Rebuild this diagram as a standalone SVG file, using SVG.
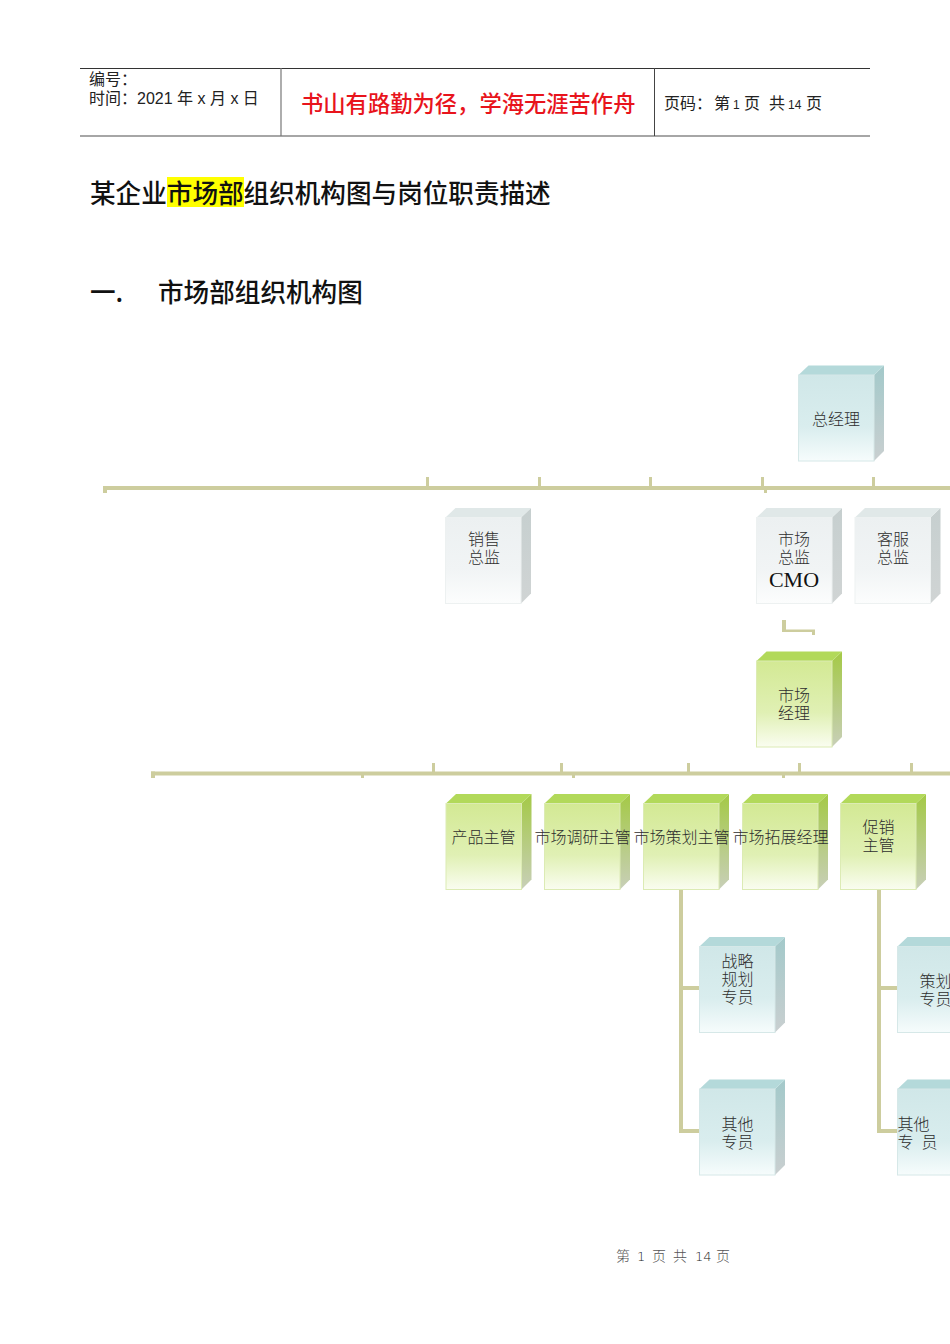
<svg xmlns="http://www.w3.org/2000/svg" width="950" height="1344" viewBox="0 0 950 1344">
<style>
text{font-family:"Noto Sans CJK SC","Liberation Sans",sans-serif;fill:#111;white-space:pre}
.n{font-size:16px;fill:#2e2e2e;text-anchor:middle;font-weight:300}
.h{font-size:16px;font-family:"Liberation Sans","Noto Sans CJK SC",sans-serif;font-weight:400;fill:#222}
.t{font-size:25.600px;font-weight:500}
.c{fill:#cdcd9e}
.tf{fill:url(#tF);stroke:#d6e8e8}.tt{fill:#b4d9da}.ts{fill:url(#tS)}
.gf{fill:url(#gF);stroke:#dcebb4}.gt{fill:#b2d95a}.gs{fill:url(#gS)}
.sf{fill:url(#sF);stroke:#edf1f1}.st{fill:#e0e8e8}.ss{fill:url(#sS)}
</style>
<defs>
<linearGradient id="tF" x1="0" y1="0" x2="0" y2="1"><stop offset="0" stop-color="#d0e7e8"/><stop offset=".6" stop-color="#d9edee"/><stop offset="1" stop-color="#f6fcfc"/></linearGradient>
<linearGradient id="tS" x1="0" y1="0" x2="0" y2="1"><stop offset="0" stop-color="#a3c9ca"/><stop offset="1" stop-color="#c9cfd0"/></linearGradient>
<linearGradient id="gF" x1="0" y1="0" x2="0" y2="1"><stop offset="0" stop-color="#d3e994"/><stop offset=".6" stop-color="#e0f0b4"/><stop offset="1" stop-color="#fafdf0"/></linearGradient>
<linearGradient id="gS" x1="0" y1="0" x2="0" y2="1"><stop offset="0" stop-color="#a4c946"/><stop offset="1" stop-color="#c8cfb8"/></linearGradient>
<linearGradient id="sF" x1="0" y1="0" x2="0" y2="1"><stop offset="0" stop-color="#ecf0f1"/><stop offset=".6" stop-color="#f1f4f5"/><stop offset="1" stop-color="#fcfdfd"/></linearGradient>
<linearGradient id="sS" x1="0" y1="0" x2="0" y2="1"><stop offset="0" stop-color="#c6cfcf"/><stop offset="1" stop-color="#d0d4d4"/></linearGradient>
<g id="bt"><path class="ts" d="M75.500 0l10-9.500V76L75.500 86z"/><path class="tt" d="M0 0l10-9.500H85.500L75.500 0z"/><rect class="tf" width="75.500" height="86"/></g>
<g id="bg"><path class="gs" d="M75.500 0l10-9.500V76L75.500 86z"/><path class="gt" d="M0 0l10-9.500H85.500L75.500 0z"/><rect class="gf" width="75.500" height="86"/></g>
<g id="bs"><path class="ss" d="M75.500 0l10-9.500V76L75.500 86z"/><path class="st" d="M0 0l10-9.500H85.500L75.500 0z"/><rect class="sf" width="75.500" height="86"/></g>
</defs>

<g id="header">
<path d="M80 68.500H870" stroke="#333" fill="none"/>
<path d="M80 136H870" stroke="#888" stroke-width="1.500" fill="none"/>
<path d="M281 68V136" stroke="#777" stroke-width="1.200" fill="none"/>
<path d="M654.500 68V136" stroke="#444" fill="none"/>
<text class="h" x="89" y="85">编号：</text>
<text class="h" x="89" y="104">时间：2021 年 x 月 x 日</text>
<text x="301" y="112" style="font-size:22.300px;fill:#e8141c;font-weight:500">书山有路勤为径，学海无涯苦作舟</text>
<text class="h" y="109"><tspan x="664">页码：</tspan><tspan x="714">第</tspan><tspan x="733" style="font-size:12px">1</tspan><tspan x="744">页</tspan><tspan x="769">共</tspan><tspan x="788" style="font-size:12px">14</tspan><tspan x="806">页</tspan></text>
</g>
<g id="title">
<rect x="167" y="177" width="77" height="30" fill="#ffff00"/>
<text class="t" x="90" y="203">某企业市场部组织机构图与岗位职责描述</text>
<text class="t" x="90" y="302">一.</text>
<text class="t" x="158" y="302">市场部组织机构图</text>
</g>

<g id="connectors">
<rect class="c" x="103" y="486" width="847" height="4"/>
<rect class="c" x="103" y="486" width="4" height="7"/>
<rect class="c" x="426" y="477" width="3" height="11"/>
<rect class="c" x="538" y="477" width="3" height="11"/>
<rect class="c" x="649" y="477" width="3" height="11"/>
<rect class="c" x="761" y="477" width="3" height="11"/>
<rect class="c" x="872" y="477" width="3" height="11"/>
<rect class="c" x="764" y="488" width="3" height="5"/>
<path class="c" d="M782 620h4v9.500h29v5.500h-3v-3h-30z"/>
<rect class="c" x="151" y="771.500" width="799" height="4"/>
<rect class="c" x="151" y="771.500" width="4" height="6.500"/>
<rect class="c" x="361" y="773" width="3" height="5"/>
<rect class="c" x="572" y="773" width="3" height="5"/>
<rect class="c" x="782" y="773" width="3" height="5"/>
<rect class="c" x="432" y="763" width="3" height="10"/>
<rect class="c" x="560" y="763" width="3" height="10"/>
<rect class="c" x="687" y="763" width="3" height="10"/>
<rect class="c" x="798" y="763" width="3" height="10"/>
<rect class="c" x="910" y="763" width="3" height="10"/>
<path class="c" d="M679 889h4v97h16v4h-16v139h16v4h-20z"/>
<path class="c" d="M877 889h4v97h16v4h-16v139h16v4h-20z"/>
</g>

<g id="node-gm"><use href="#bt" x="798.500" y="375"/><text class="n" x="836" y="425">总经理</text></g>
<g id="node-sales"><use href="#bs" x="445.500" y="517.500"/><text class="n" y="545"><tspan x="484">销售</tspan><tspan x="484" dy="18">总监</tspan></text></g>
<g id="node-cmo"><use href="#bs" x="756.500" y="517.500"/><text class="n" y="545"><tspan x="794">市场</tspan><tspan x="794" dy="18">总监</tspan><tspan x="794" dy="24" style="font-family:'Liberation Serif',serif;font-size:22px;fill:#111;font-weight:400">CMO</tspan></text></g>
<g id="node-cs"><use href="#bs" x="855" y="517.500"/><text class="n" y="545"><tspan x="893">客服</tspan><tspan x="893" dy="18">总监</tspan></text></g>
<g id="node-mm"><use href="#bg" x="756.500" y="661"/><text class="n" y="701"><tspan x="794">市场</tspan><tspan x="794" dy="18">经理</tspan></text></g>
<g id="node-product"><use href="#bg" x="446" y="803.500"/><text class="n" x="483.500" y="842.500">产品主管</text></g>
<g id="node-research"><use href="#bg" x="544.500" y="803.500"/><text class="n" x="582.500" y="842.500">市场调研主管</text></g>
<g id="node-plan"><use href="#bg" x="643.500" y="803.500"/><text class="n" x="681.500" y="842.500">市场策划主管</text></g>
<g id="node-expand"><use href="#bg" x="742.500" y="803.500"/><text class="n" x="780.500" y="842.500">市场拓展经理</text></g>
<g id="node-promo"><use href="#bg" x="840.500" y="803.500"/><text class="n" y="833"><tspan x="878.500">促销</tspan><tspan x="878.500" dy="18">主管</tspan></text></g>
<g id="node-strategy"><use href="#bt" x="699.500" y="946.500"/><text class="n" y="966.500"><tspan x="737.500">战略</tspan><tspan x="737.500" dy="18.500">规划</tspan><tspan x="737.500" dy="18">专员</tspan></text></g>
<g id="node-other1"><use href="#bt" x="699.500" y="1089"/><text class="n" y="1129.500"><tspan x="737.500">其他</tspan><tspan x="737.500" dy="18">专员</tspan></text></g>
<g id="node-planner"><use href="#bt" x="897.500" y="946.500"/><text class="n" y="986.500"><tspan x="935.500">策划</tspan><tspan x="935.500" dy="18">专员</tspan></text></g>
<g id="node-other2"><use href="#bt" x="897.500" y="1089"/><text class="n" y="1129.500" style="text-anchor:start"><tspan x="897.500">其他</tspan><tspan x="897.500" dy="18">专</tspan><tspan x="921.500">员</tspan></text></g>

<g id="footer"><text y="1261" style="font-size:14px;fill:#555;font-weight:300"><tspan x="616">第</tspan><tspan x="637" style="font-family:'DejaVu Sans',sans-serif;font-size:13px;fill:#222">1</tspan><tspan x="652">页</tspan><tspan x="673">共</tspan><tspan x="695" style="font-family:'DejaVu Sans',sans-serif;font-size:13px;fill:#222">14</tspan><tspan x="716">页</tspan></text></g>
</svg>
